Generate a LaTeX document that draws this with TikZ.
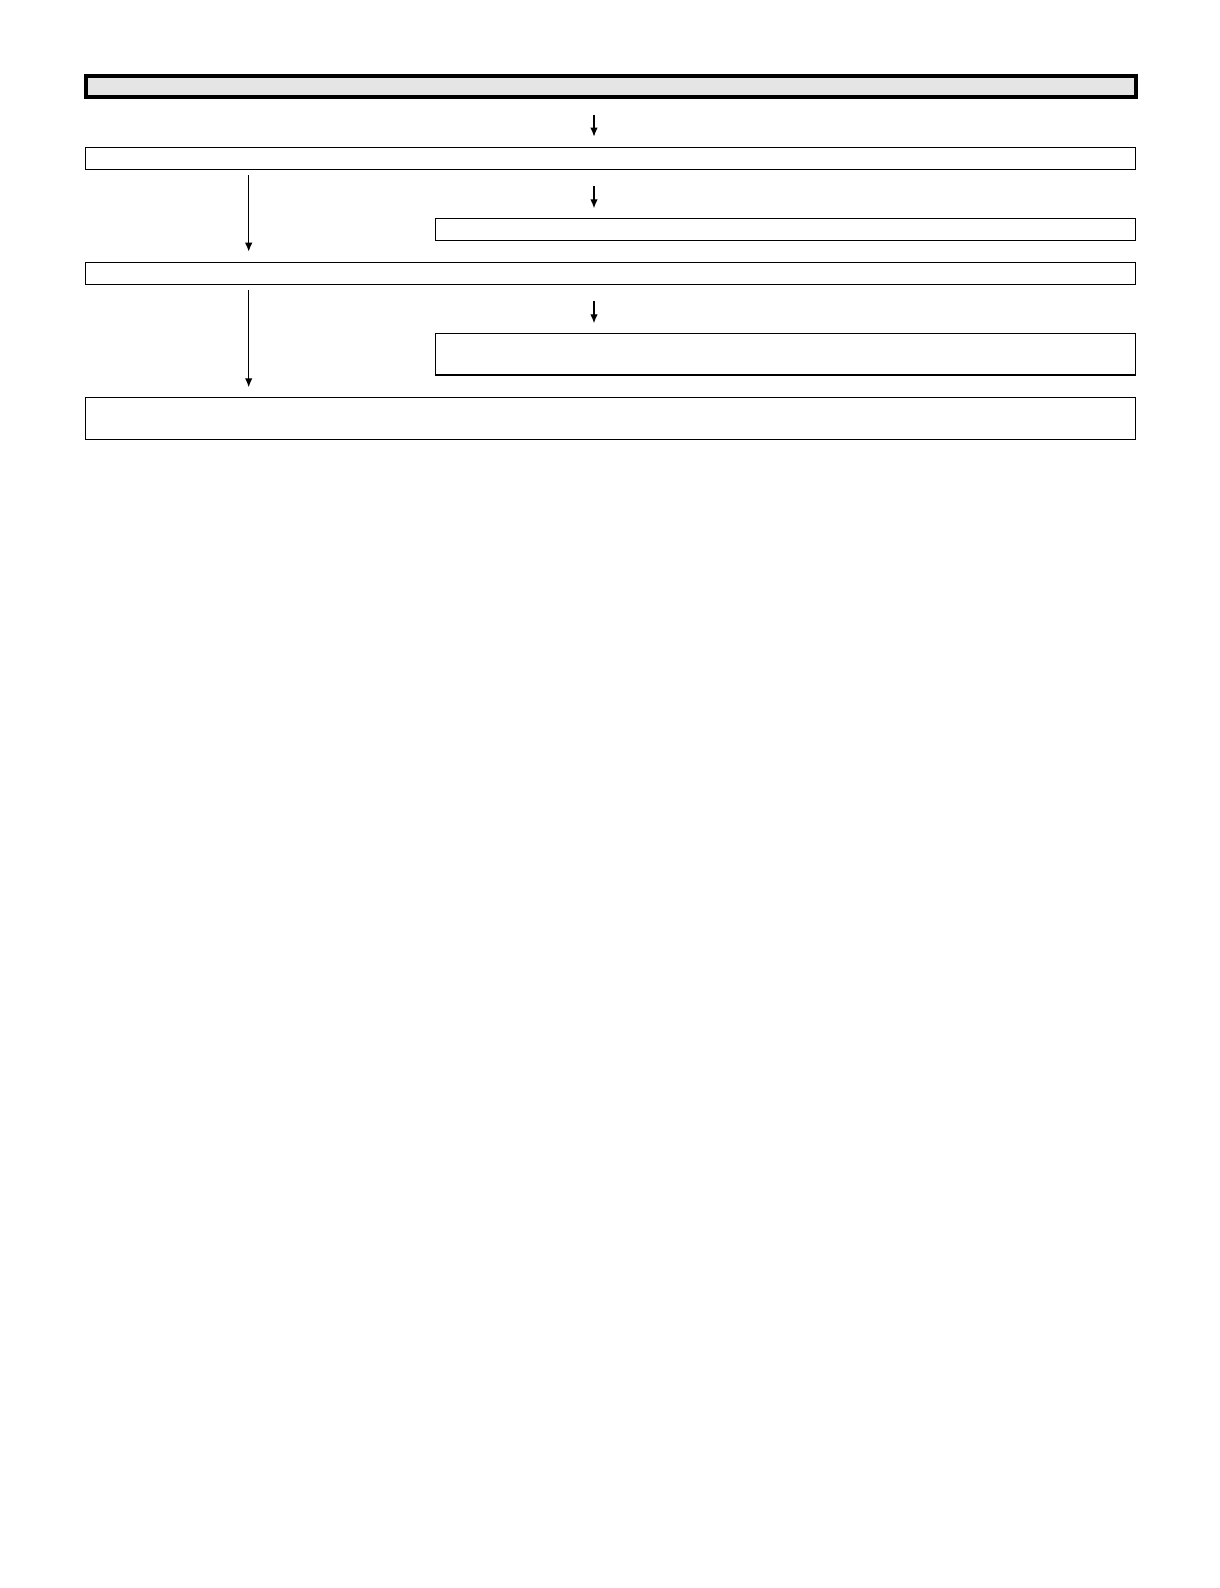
\documentclass[tikz,border=0pt]{standalone}
\usetikzlibrary{arrows.meta}
\def\pxu{0.6pt}
\tikzset{
  mybox/.style={draw,rectangle,anchor=north west,inner sep=0pt,outer sep=0pt,line width=1.5*\pxu},
  mytop/.style={mybox,fill=black!10,line width=4*\pxu},
  myarrow/.style={draw,line width=1.3*\pxu,-{Latex[length=5.4pt,width=4.5pt]}}
}
\begin{document}
\begin{tikzpicture}[x=\pxu,y=-\pxu]
        \useasboundingbox (0,0) rectangle (1220,1588);
        \coordinate (mid) at (594,0);
        \coordinate (lft) at (248.7,0);
        \node[mytop,minimum width=1050*\pxu,minimum height=21.3*\pxu] (top) at (86,76) {};
        \node[mybox,minimum width=1050*\pxu,minimum height=22*\pxu] (b) at (85.3,147.5) {};
        \node[mybox,minimum width=700*\pxu,minimum height=22*\pxu] (c) at (435.3,218.3) {};
        \node[mybox,minimum width=1050*\pxu,minimum height=22*\pxu] (d) at (85.3,262.3) {};
        \node[mybox,minimum width=700*\pxu,minimum height=41.7*\pxu] (e) at (435.3,333.3) {};
        \node[mybox,minimum width=1050*\pxu,minimum height=42*\pxu] (f) at (85.3,397.3) {};
        \draw[myarrow,shorten <=17.7*\pxu,shorten >=10.8*\pxu] (top.south -| mid) -- (mid |- b.north);
        \draw[myarrow,shorten <=5.5*\pxu,shorten >=10.6*\pxu] (b.south -| lft) -- (lft |- d.north);
        \draw[myarrow,shorten <=16.5*\pxu,shorten >=10*\pxu] (b.south -| mid) -- (mid |- c.north);
        \draw[myarrow,shorten <=5.5*\pxu,shorten >=10*\pxu] (d.south -| lft) -- (lft |- f.north);
        \draw[myarrow,shorten <=16.5*\pxu,shorten >=10*\pxu] (d.south -| mid) -- (mid |- e.north);
      \end{tikzpicture}
\end{document}
